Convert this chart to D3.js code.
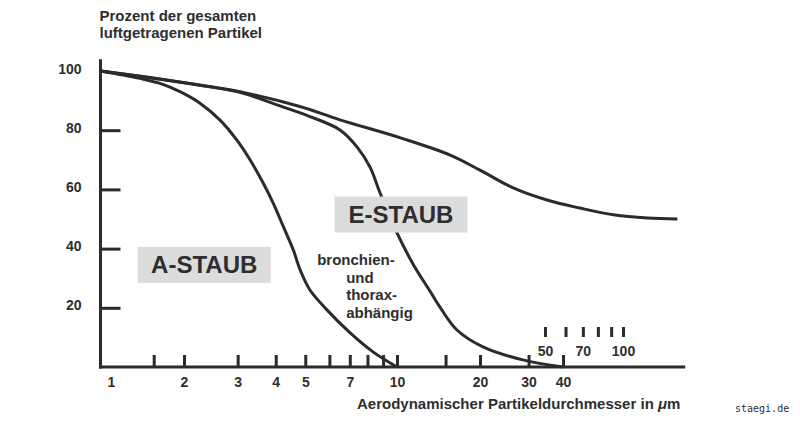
<!DOCTYPE html>
<html>
<head>
<meta charset="utf-8">
<script src="https://cdn.jsdelivr.net/npm/d3@7"></script>
<style>
  body { margin: 0; background: #fff; }
  svg text { font-family: "Liberation Sans", Arial, sans-serif; font-weight: bold; fill: #2e2e2e; }
</style>
</head>
<body>
<div id="container"></div>
<script>
// curve data: [particle diameter in µm, percent of airborne particles]
const inhalable = [[0.905, 100], [1.45, 97.8], [2.25, 95.3], [3.05, 93.0], [4.8, 88], [6.5, 83.5], [10.3, 77.4],
    [15.6, 71.6], [20, 66.5], [26.4, 60.5], [35, 56.4], [46, 53.7], [61, 51.4], [81, 50.3], [104, 50]];
const thoracic = [[0.905, 100], [2.25, 95.2], [3.05, 92.8], [4.13, 88.2], [5.06, 85], [6.5, 80.1], [7.4, 74.3],
    [8.15, 67.6], [8.8, 58.8], [10, 45.3], [11.4, 35], [13.2, 25.5], [14.3, 20.3], [16.5, 12.5], [20.5, 6.8],
    [28.6, 2.4], [40, 0]];
const respirable = [[0.905, 100], [1.317, 97.5], [1.593, 95.8], [1.926, 93.0], [2.257, 89.1], [2.626, 83.4],
    [2.979, 76.7], [3.293, 70.0], [3.641, 62.1], [3.928, 55.3], [4.237, 47.4], [4.569, 39.5], [4.81, 32.8],
    [5.18, 26], [5.89, 19.3], [7.02, 11.5], [8.34, 5.1], [10, 0]];

// axis ticks and labels
const yTicks = [20, 40, 60, 80];
const yLabels = [20, 40, 60, 80, 100];
const xTicks = [1.5, 2, 3, 4, 5, 6, 7, 8, 9, 10, 15, 20, 30, 40];
const xLabels = [1, 2, 3, 4, 5, 7, 10, 20, 30, 40];
const insetTicks = [50, 60, 70, 80, 90, 100];
const insetLabels = [50, 70, 100];

const titleLines = ["Prozent der gesamten", "luftgetragenen Partikel"];
const noteLines = ["bronchien-", "und", "thorax-", "abhängig"];

// Set up variables
const width = 800;
const height = 423;
const ink = "#2b2b2b";

const svg = d3.select("div#container").append("svg")
    .attr("width", width).attr("height", height);

svg.append("rect").attr("width", width).attr("height", height).attr("fill", "#fff");

// hand drawn log axis, so a piecewise log scale
const x = d3.scaleLog().domain([1, 2, 10, 40]).range([111, 184, 397, 563]);
const xInset = d3.scaleLog().domain([50, 100]).range([545, 623]);
const y = d3.scaleLinear().domain([0, 100]).range([367, 71]);

const xMin = 0.905, xMax = 111, yMax = 104;

// Title
svg.append("text")
    .attr("x", x(xMin) - 1)
    .attr("y", 21)
    .attr("font-size", 15)
    .selectAll("tspan")
    .data(titleLines)
    .enter()
    .append("tspan")
    .attr("x", x(xMin) - 1)
    .attr("dy", (d, i) => i === 0 ? 0 : 16.5)
    .text(d => d);

// Draw the y axis
const yAxis = svg.append("g").attr("transform", `translate(${x(xMin)},0)`);

yAxis.append("g")
    .call(d3.axisLeft(y).tickValues(yTicks).tickSizeInner(-20).tickSizeOuter(0).tickFormat(""))
    .call(g => g.select(".domain").remove())
    .selectAll("line").attr("stroke", ink).attr("stroke-width", 3);

yAxis.append("g")
    .call(d3.axisLeft(y).tickValues(yLabels).tickSize(0).tickPadding(19))
    .call(g => g.select(".domain").remove())
    .selectAll("text")
    .attr("font-size", 14)
    .attr("dy", "0.15em");

yAxis.append("line")
    .attr("y1", y(0) + 1.5).attr("y2", y(yMax))
    .attr("stroke", ink).attr("stroke-width", 3);

// Draw the x axis
const xAxis = svg.append("g").attr("transform", `translate(0,${y(0)})`);

xAxis.append("g")
    .call(d3.axisBottom(x).tickValues(xTicks).tickSizeInner(-12).tickSizeOuter(0).tickFormat(""))
    .call(g => g.select(".domain").remove())
    .selectAll("line").attr("stroke", ink).attr("stroke-width", 3);

xAxis.append("g")
    .call(d3.axisBottom(x).tickValues(xLabels).tickSize(0).tickPadding(10).tickFormat(d3.format("d")))
    .call(g => g.select(".domain").remove())
    .selectAll("text")
    .attr("font-size", 14);

xAxis.append("line")
    .attr("x1", x(xMin) - 1.5).attr("x2", x(xMax))
    .attr("stroke", ink).attr("stroke-width", 3);

// small scale for 50 - 100 µm
const inset = svg.append("g").attr("transform", "translate(0,337)");

inset.append("g")
    .call(d3.axisBottom(xInset).tickValues(insetTicks).tickSizeInner(-10).tickSizeOuter(0).tickFormat(""))
    .call(g => g.select(".domain").remove())
    .selectAll("line").attr("stroke", ink).attr("stroke-width", 3);

inset.append("g")
    .call(d3.axisBottom(xInset).tickValues(insetLabels).tickSize(0).tickPadding(9).tickFormat(d3.format("d")))
    .call(g => g.select(".domain").remove())
    .selectAll("text")
    .attr("font-size", 14);

svg.selectAll(".tick text").attr("font-family", null).attr("fill", null);

// x axis title
const xTitle = svg.append("text")
    .attr("x", 357)
    .attr("y", 409)
    .attr("font-size", 15);
xTitle.append("tspan").text("Aerodynamischer Partikeldurchmesser in ");
xTitle.append("tspan").attr("font-style", "italic").text("μ");
xTitle.append("tspan").text("m");

// Draw the curves
const line = d3.line()
    .x(d => x(d[0]))
    .y(d => y(d[1]))
    .curve(d3.curveCatmullRom.alpha(0.5));

svg.selectAll("path.curve")
    .data([inhalable, thoracic, respirable])
    .enter()
    .append("path")
    .classed("curve", true)
    .attr("d", line)
    .attr("fill", "none")
    .attr("stroke", ink)
    .attr("stroke-width", 3)
    .attr("stroke-linejoin", "round");

// Labels in grey boxes
const boxes = [
    { text: "A-STAUB", d: 2.33, p: 34.5 },
    { text: "E-STAUB", d: 10.34, p: 51.5 }
];

boxes.forEach(b => {
    const g = svg.append("g").attr("transform", `translate(${x(b.d)},${y(b.p)})`);
    g.append("rect")
        .attr("x", -66.5).attr("y", -18)
        .attr("width", 133).attr("height", 36)
        .attr("fill", "#dcdcdc");
    g.append("text")
        .attr("text-anchor", "middle")
        .attr("y", 8.5)
        .attr("font-size", 24)
        .attr("fill", "#333")
        .text(b.text);
});

// bronchien- und thorax-abhängig
svg.append("g")
    .attr("transform", `translate(${x(5.47)},${y(34.5)})`)
    .selectAll("text")
    .data(noteLines)
    .enter()
    .append("text")
    .attr("x", (d, i) => i === 0 ? 0 : 29)
    .attr("y", (d, i) => i * 17.7)
    .attr("font-size", 15)
    .text(d => d);

// watermark
svg.append("text")
    .attr("x", 735)
    .attr("y", 412)
    .attr("font-size", 10)
    .style("font-family", "'DejaVu Sans Mono', monospace")
    .style("font-weight", "normal")
    .attr("fill", "#333")
    .text("staegi.de");
</script>
</body>
</html>
